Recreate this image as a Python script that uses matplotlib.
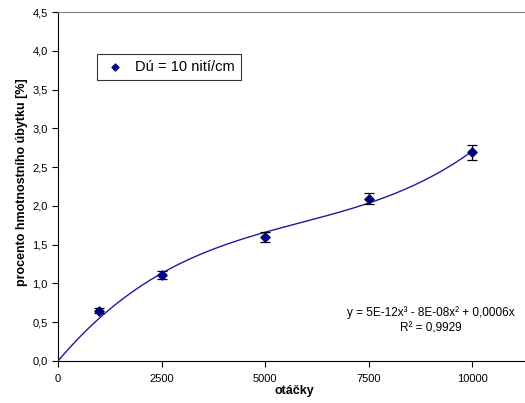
import numpy as np
import matplotlib
matplotlib.use('Agg')
import matplotlib.pyplot as plt

plt.rcParams['font.family'] = ['Liberation Sans', 'DejaVu Sans']

# data
otacky = [1000, 2500, 5000, 7500, 10000]
ubytek = [0.65, 1.11, 1.60, 2.09, 2.69]
chyba = [0.03, 0.05, 0.06, 0.07, 0.10]
x_ticks = [0, 2500, 5000, 7500, 10000]
y_ticks = [0.0, 0.5, 1.0, 1.5, 2.0, 2.5, 3.0, 3.5, 4.0, 4.5]
legend_label = 'Dú = 10 nití/cm'
rovnice = 'y = 5E-12x³ - 8E-08x² + 0,0006x\nR² = 0,9929'

W, H = 525, 403
fig = plt.figure(figsize=(W / 100, H / 100), dpi=100)
ax = fig.add_axes([58 / W, (H - 361) / H, 1 - 58 / W + 0.01, (361 - 12) / H])

navy = '#000080'

# polynomial trendline through origin (3rd order, like the spreadsheet one)
x = np.array(otacky, dtype=float)
A = np.vstack([x ** 3, x ** 2, x]).T
coef, *_ = np.linalg.lstsq(A, np.array(ubytek), rcond=None)
xs = np.linspace(0, 10000, 200)
ys = coef[0] * xs ** 3 + coef[1] * xs ** 2 + coef[2] * xs
ax.plot(xs, ys, color='#1c1ca0', lw=1.0, zorder=2)

ax.errorbar(otacky, ubytek, yerr=chyba, fmt='none', ecolor='black',
            elinewidth=0.9, capsize=3.3, capthick=0.9, zorder=3)
ax.scatter(otacky, ubytek, marker='D', s=22, color=navy, zorder=4,
           label=legend_label)

ax.set_xlim(0, 11400)
ax.set_ylim(0, 4.5)
ax.set_xticks(x_ticks)
ax.set_xticklabels([str(t) for t in x_ticks])
ax.set_yticks(y_ticks)
ax.set_yticklabels([f'{t:.1f}'.replace('.', ',') for t in y_ticks])
ax.tick_params(labelsize=8, length=4, width=0.8, direction='out', colors='black')
ax.tick_params(axis='x', pad=5)

ax.spines['right'].set_visible(False)
ax.spines['top'].set_color('#808080')
ax.spines['left'].set_color('black')
ax.spines['bottom'].set_color('black')

ax.set_xlabel('otáčky', fontsize=9, fontweight='bold', labelpad=1)
ax.set_ylabel('procento hmotnostního úbytku [%]', fontsize=9,
              fontweight='bold', labelpad=3)
ax.yaxis.label.set_y(0.513)

leg = ax.legend(loc='upper left', bbox_to_anchor=(0.0826, 0.880), fontsize=10.5,
                frameon=True, fancybox=False, edgecolor='black',
                handletextpad=0.6, borderpad=0.4, handlelength=1.6,
                borderaxespad=0, markerscale=0.75)
leg.get_frame().set_linewidth(0.8)

ax.text(9000, 0.53, rovnice, fontsize=8.5, ha='center', va='center',
        linespacing=1.4)

fig.savefig('out.png', dpi=100)
